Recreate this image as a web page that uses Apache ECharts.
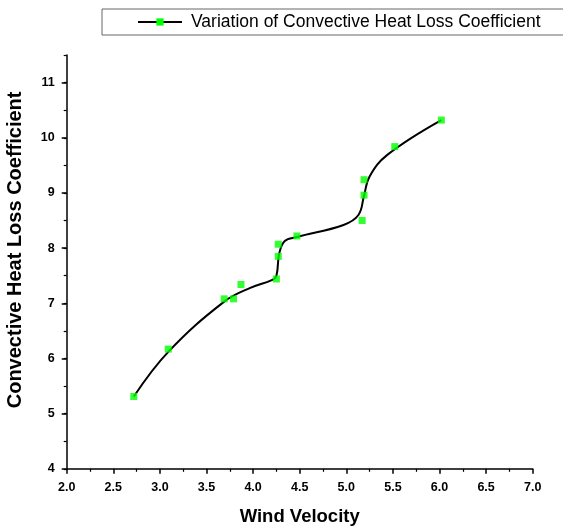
<!DOCTYPE html>
<html>
<head>
<meta charset="utf-8">
<script src="https://cdn.jsdelivr.net/npm/echarts@6/dist/echarts.min.js"></script>
<style>
html,body{margin:0;padding:0;background:#fff;}
#chart{width:563px;height:531px;}
</style>
</head>
<body>
<div id="chart"></div>
<script>
// Measured data points (wind velocity, convective heat loss coefficient)
var windVelocity = [2.72, 3.09, 3.69, 3.79, 3.87, 4.25, 4.27, 4.27, 4.47, 5.17, 5.19, 5.19, 5.52, 6.02];
var heatLossCoef = [5.31, 6.17, 7.08, 7.08, 7.34, 7.44, 7.85, 8.07, 8.22, 8.50, 8.96, 9.24, 9.84, 10.32];

// Fitted curve
var curveX = [2.72, 3.09, 3.69, 3.97, 4.20, 4.25, 4.28, 4.34, 4.47, 4.97, 5.13, 5.19, 5.25, 5.44, 6.02];
var curveY = [5.31, 6.12, 7.03, 7.28, 7.42, 7.50, 7.90, 8.13, 8.20, 8.42, 8.60, 8.95, 9.30, 9.69, 10.32];

var xTicks = [2.0, 2.5, 3.0, 3.5, 4.0, 4.5, 5.0, 5.5, 6.0, 6.5, 7.0];
var yTicks = [4, 5, 6, 7, 8, 9, 10, 11];

var seriesName = 'Variation of Convective Heat Loss Coefficient';
var xTitle = 'Wind Velocity';
var yTitle = 'Convective Heat Loss Coefficient';

var FONT = '"Liberation Sans", Arial, sans-serif';

var pts = windVelocity.map(function (x, i) { return [x, heatLossCoef[i]]; });
var curve = curveX.map(function (x, i) { return [x, curveY[i]]; });

var chart = echarts.init(document.getElementById('chart'), null, {renderer: 'canvas'});
var axisLineStyle = {color: '#000', width: 1.5};
chart.setOption({
  animation: false,
  backgroundColor: '#fff',
  textStyle: {fontFamily: FONT},
  grid: {left: 66.7, right: 30.3, top: 55, bottom: 62.2, containLabel: false, outerBoundsMode: 'none'},
  legend: {
    data: [seriesName],
    left: 102,
    top: 9,
    orient: 'horizontal',
    itemWidth: 44,
    itemHeight: 9,
    padding: [4, 60, 4, 35],
    borderColor: '#666',
    borderWidth: 1,
    textStyle: {fontFamily: FONT, fontSize: 17.5, color: '#000', padding: [0, 0, 0, 4]},
    selectedMode: false
  },
  xAxis: [{
    type: 'value',
    min: xTicks[0],
    max: xTicks[xTicks.length - 1],
    interval: 0.5,
    splitLine: {show: false},
    axisLine: {show: true, onZero: false, lineStyle: axisLineStyle},
    axisTick: {show: true, inside: false, length: 5, lineStyle: {color: '#000', width: 1.5}},
    minorTick: {show: true, splitNumber: 2, length: 3, lineStyle: {color: '#000', width: 1.2}},
    axisLabel: {
      margin: 12, color: '#000', fontSize: 12.5, fontWeight: 'bold', fontFamily: FONT,
      formatter: function (v) { return v.toFixed(1); }
    },
    name: xTitle,
    nameLocation: 'middle',
    nameGap: 39,
    nameTextStyle: {fontSize: 18.5, fontWeight: 'bold', color: '#000', fontFamily: FONT}
  }],
  yAxis: [{
    type: 'value',
    min: 4,
    max: 11.5,
    interval: 1,
    splitLine: {show: false},
    axisLine: {show: true, onZero: false, lineStyle: axisLineStyle},
    axisTick: {show: true, inside: false, length: 5, customValues: yTicks, lineStyle: {color: '#000', width: 1.5}},
    axisLabel: {
      margin: 12, color: '#000', fontSize: 12.5, fontWeight: 'bold', fontFamily: FONT,
      customValues: yTicks,
      formatter: function (v) { return String(v); }
    },
    name: yTitle,
    nameLocation: 'middle',
    nameGap: 41,
    nameTextStyle: {fontSize: 20, fontWeight: 'bold', color: '#000', fontFamily: FONT, padding: [0, 0, 0, 24]}
  }, {
    type: 'value',
    position: 'left',
    min: 4,
    max: 11.5,
    interval: 0.5,
    splitLine: {show: false},
    axisLine: {show: false},
    axisTick: {show: true, inside: false, length: 3, lineStyle: {color: '#000', width: 1.2}},
    axisLabel: {show: false}
  }],
  series: [{
    name: seriesName,
    type: 'line',
    data: curve,
    smooth: 0.4,
    symbol: 'rect',
    showSymbol: false,
    lineStyle: {color: '#000', width: 2},
    itemStyle: {color: '#00ff00'},
    silent: true,
    z: 2
  }, {
    name: 'points',
    type: 'scatter',
    data: pts,
    symbol: 'rect',
    symbolSize: 7,
    itemStyle: {color: '#00ff00'},
    silent: true,
    z: 3
  }]
});
</script>
</body>
</html>
